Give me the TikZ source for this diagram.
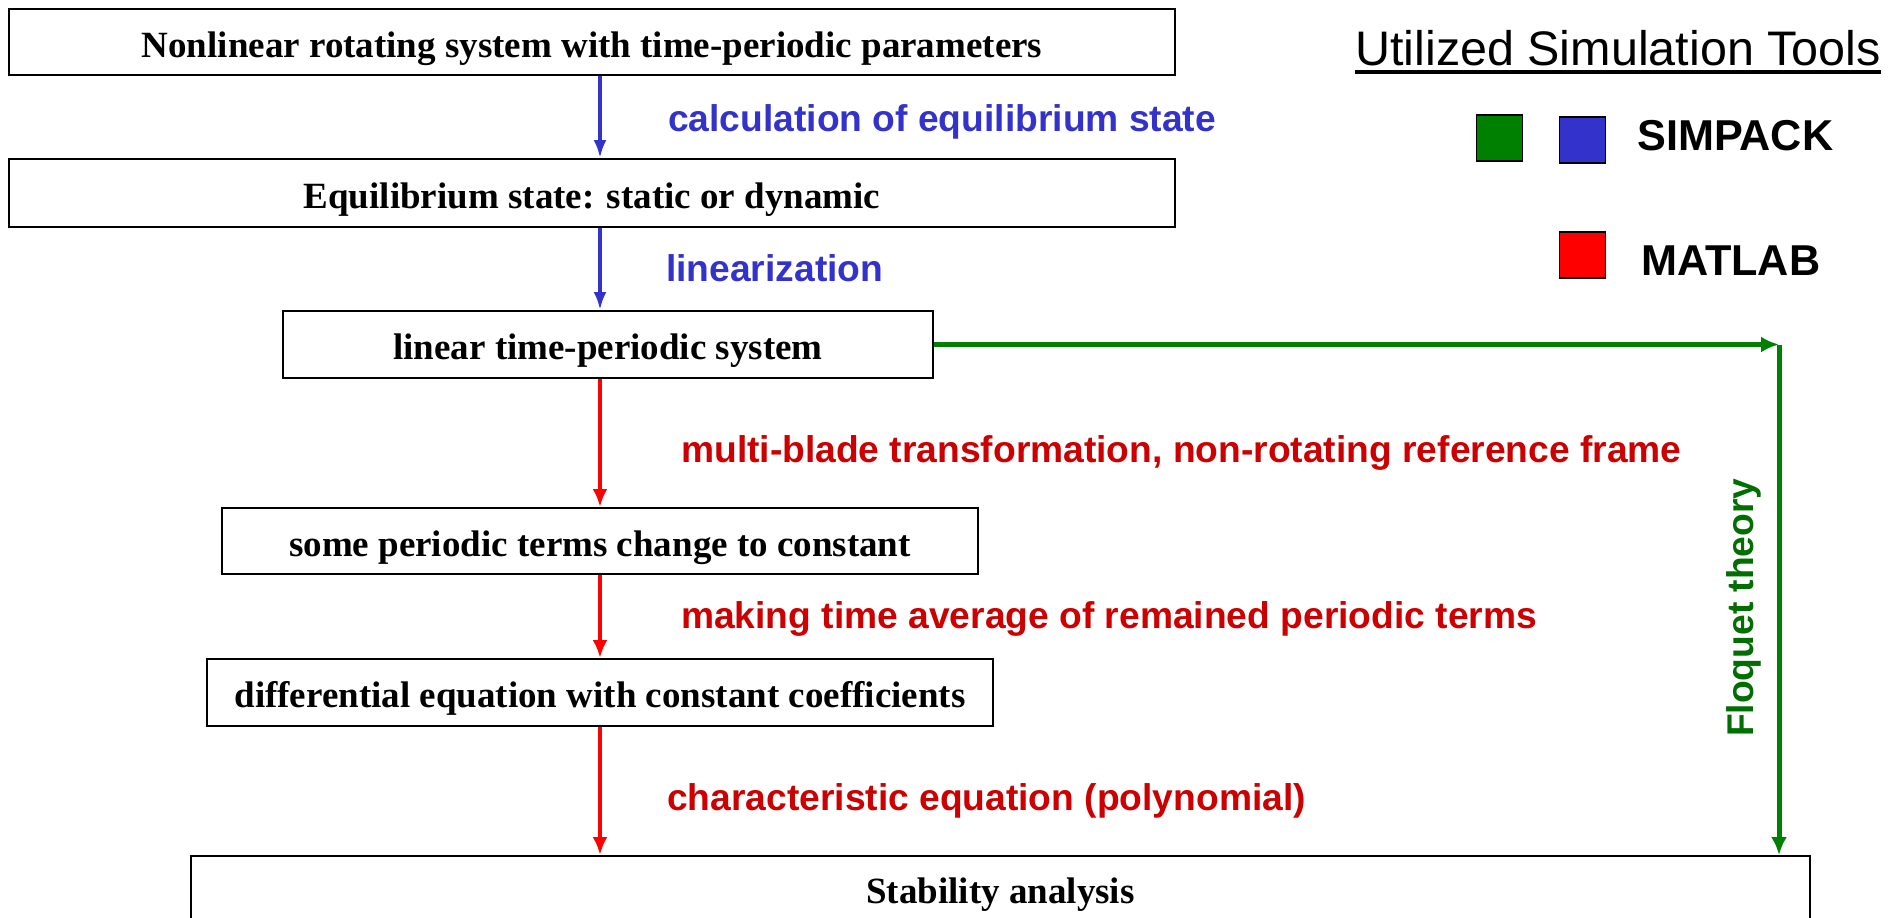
\documentclass[tikz,border=0pt]{standalone}
\usepackage{fontspec}
\setmainfont{Liberation Serif}
\setsansfont{Liberation Sans}
\usetikzlibrary{
	arrows.meta,
	positioning
}
\definecolor{simblue}{RGB}{51,51,204}
\definecolor{simgreen}{RGB}{0,128,0}
\definecolor{floqgreen}{RGB}{0,110,0}
\definecolor{matred}{RGB}{255,0,0}
\definecolor{labred}{RGB}{204,0,0}
\tikzset{
	FlowBox/.style={rectangle,draw,line width=2pt,inner sep=0pt,text height=32pt,text depth=2pt,
		font=\fontsize{37}{40}\selectfont\bfseries},
	StepLabel/.style={anchor=base west,inner sep=0pt,font=\fontsize{37.2}{40}\selectfont\sffamily\bfseries},
	BlueArrow/.style={-{Latex[length=18pt,width=13pt]},line width=4pt,draw=simblue},
	RedArrow/.style={-{Latex[length=18pt,width=15pt]},line width=4pt,draw=matred},
	GreenArrow/.style={-{Latex[length=18pt,width=16pt]},line width=5pt,draw=simgreen},
	ToolKey/.style={rectangle,draw,line width=1.5pt,minimum size=46pt,inner sep=0pt},
	ToolName/.style={anchor=base west,inner sep=0pt,font=\fontsize{43.2}{46}\selectfont\sffamily\bfseries}
}

\begin{document}
\begin{tikzpicture}[x=1pt,y=-1pt]
	\useasboundingbox (0,0) rectangle (1898,918);
	% flow of the method
	\node[FlowBox,minimum width=1166pt,minimum height=66pt] (nonlin) at (592,42)
		{Nonlinear rotating system with time-periodic parameters};
	\node[FlowBox,minimum width=1166pt,minimum height=68pt] (equil) at (592,193)
		{Equilibrium state: static or dynamic};
	\node[FlowBox,minimum width=650pt,minimum height=67pt] (ltp) at (608,344.5)
		{linear time-periodic system};
	\node[FlowBox,minimum width=756pt,minimum height=66pt] (someper) at (600,541)
		{some periodic terms change to constant};
	\node[FlowBox,minimum width=786pt,minimum height=67pt] (diffeq) at (600,692.5)
		{differential equation with constant coefficients};
	\node[FlowBox,minimum width=1619pt,minimum height=64pt] (stab) at (1000.5,888)
		{Stability analysis};
	\coordinate (spine) at (600,0);
	\coordinate (floq) at (1779,344.5);
	% SIMPACK steps
	\draw[BlueArrow] (nonlin.south -| spine) -- (equil.north -| spine);
	\draw[BlueArrow] (equil.south -| spine) -- (ltp.north -| spine);
	\node[StepLabel,text=simblue] (calceq) at (668,131) {calculation of equilibrium state};
	\node[StepLabel,text=simblue] (linz) at (666,281) {linearization};
	% MATLAB steps
	\draw[RedArrow] (ltp.south -| spine) -- (someper.north -| spine);
	\draw[RedArrow] (someper.south -| spine) -- (diffeq.north -| spine);
	\draw[RedArrow] (diffeq.south -| spine) -- (stab.north -| spine);
	\node[StepLabel,text=labred] (mbt) at (681,462) {multi-blade transformation, non-rotating reference frame};
	\node[StepLabel,text=labred] (tavg) at (681,628) {making time average of remained periodic terms};
	\node[StepLabel,text=labred] (chareq) at (667,810) {characteristic equation (polynomial)};
	% Floquet branch
	\draw[GreenArrow] (ltp.east) -- (floq);
	\draw[GreenArrow] (floq) -- (floq |- stab.north);
	\node[StepLabel,text=floqgreen,rotate=90] (floqtxt) at (1753,737) {Floquet theory};
	% legend
	\node[anchor=base west,inner sep=0pt,font=\fontsize{48.5}{52}\selectfont\sffamily] (tools) at (1355,65)
		{Utilized Simulation Tools};
	\draw[line width=4pt] ([yshift=-7pt]tools.base west) -- ([yshift=-7pt]tools.base east);
	\node[ToolKey,fill=simgreen] (keygreen) at (1499.5,138) {};
	\node[ToolKey,fill=simblue] (keyblue) at (1582.5,140) {};
	\node[ToolKey,fill=matred] (keyred) at (1582.5,255) {};
	\node[ToolName] (simpack) at (1637,150) {SIMPACK};
	\node[ToolName] (matlab) at (1641,275) {MATLAB};
\end{tikzpicture}
\end{document}
